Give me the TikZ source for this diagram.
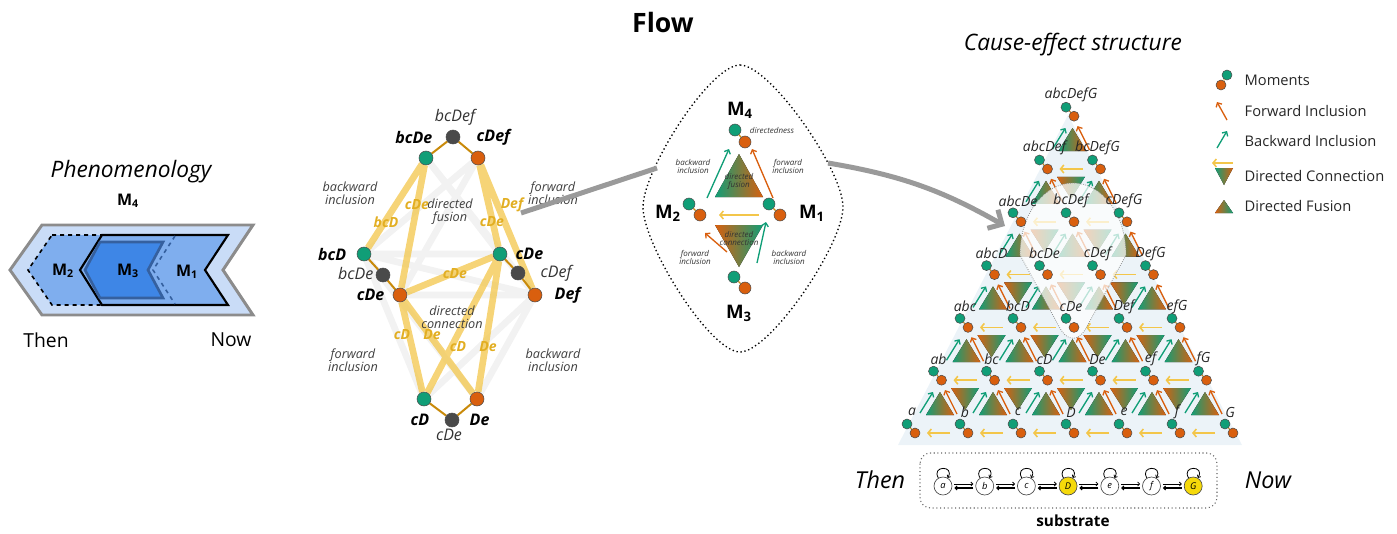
\documentclass[tikz,border=0pt]{standalone}
\usepackage{fontspec}
\setmainfont{Open Sans}
\usetikzlibrary{arrows.meta,calc}

\definecolor{mgreen}{HTML}{109E77}
\definecolor{morange}{HTML}{D95F0E}
\definecolor{mgold}{HTML}{F3C64A}
\definecolor{mlink}{HTML}{C98A0A}
\definecolor{mdark}{HTML}{4A4A4A}
\definecolor{chevA}{HTML}{C9DCF7}
\definecolor{chevB}{HTML}{7FAEEE}
\definecolor{chevC}{HTML}{3E86E6}
\definecolor{chevE}{HTML}{35609F}
\definecolor{flowgray}{HTML}{9A9A9A}
\definecolor{ceback}{HTML}{DCEAF3}
\definecolor{labgold}{HTML}{E2AE22}
\definecolor{sunyel}{HTML}{F5D90A}

\newcommand{\fsz}[1]{\fontsize{#1}{#1}\selectfont}

\pgfdeclarelayer{bgzero}
\pgfdeclarelayer{bgone}
\pgfdeclarelayer{bgtwo}
\pgfsetlayers{bgzero,bgone,bgtwo,main}

\tikzset{
  dot/.style={circle, draw=black!70, line width=0.4pt, inner sep=0pt, minimum size=7.5pt},
  gdot/.style={dot, fill=mgreen},
  odot/.style={dot, fill=morange},
  kdot/.style={dot, fill=mdark},
  big/.style={minimum size=10.5pt},
  mid/.style={minimum size=9pt},
  link/.style={mlink, line width=1pt},
  fwd/.style={morange, line width=1pt, -{Straight Barb[length=2.5pt,width=5pt]}},
  bwd/.style={mgreen, line width=1pt, -{Straight Barb[length=2.5pt,width=5pt]}},
  con/.style={mgold, line width=1.2pt, -{Straight Barb[length=2.5pt,width=6pt]}},
  fuse/.style={left color=mgreen, right color=morange},
  conn/.style={left color=morange, right color=mgreen},
  ybar/.style={mgold, line width=5pt, opacity=.75},
  gbar/.style={black!10, line width=5pt, opacity=.5},
  flow/.style={flowgray, line width=3.75pt},
  blab/.style={font=\bfseries\itshape\fsz{12}},
  rlab/.style={font=\itshape\fsz{12}, text=black!80},
  elab/.style={font=\bfseries\itshape\fsz{10.5}, text=labgold},
  glab/.style={font=\itshape\fsz{9.5}, text=black!75, align=center},
  ilab/.style={font=\itshape\fsz{6}, text=black!80, align=center},
  mname/.style={font=\bfseries\fsz{14}},
  tlab/.style={font=\itshape\fsz{10.5}, text=black!85},
  legt/.style={font=\fsz{11}, text=black!85, anchor=west},
  snode/.style={circle, draw=black!70, line width=0.5pt, inner sep=0pt, minimum size=13.5pt, font=\itshape\fsz{7}},
  sarr/.style={line width=0.6pt, shorten <=1.5pt, shorten >=1.5pt, -{Straight Barb[length=1.5pt,width=3pt]}},
  sloop/.style={line width=0.6pt, -{Straight Barb[length=1.5pt,width=3pt]}, loop above, min distance=3pt, in=60, out=120, looseness=4}
}

\begin{document}
\begin{tikzpicture}[x=0.75pt, y=-0.75pt]
\useasboundingbox (0,0) rectangle (1397,533);

\node[font=\bfseries\fsz{20}] (title) at (663,22) {Flow};

% phenomenology
\node[font=\itshape\fsz{17}] (phen) at (131,172) {Phenomenology};
\node[font=\bfseries\fsz{12}] (pm4) at (128,201) {M\textsubscript{4}};
\filldraw[fill=chevA, draw=black!45, line width=2.2pt] (42,225) -- (253,225) -- (223,270) -- (253,315) -- (42,315) -- (10,270) -- cycle;
\filldraw[fill=chevB, draw=black, dashed, line width=1.2pt] (52,235) -- (175,235) -- (153,270) -- (175,305) -- (52,305) -- (28,270) -- cycle;
\filldraw[fill=chevB, draw=black, line width=1.6pt] (102,235) -- (228,235) -- (205,270) -- (228,305) -- (102,305) -- (80,270) -- cycle;
\draw[dashed, line width=1.2pt, draw=chevE] (175,236) -- (153,270) -- (175,304);
\filldraw[fill=chevC, draw=chevE, line width=2pt] (100,242) -- (163,242) -- (148,270) -- (163,298) -- (100,298) -- (85,270) -- cycle;
\node[font=\bfseries\fsz{12}] (pm2) at (63,271) {M\textsubscript{2}};
\node[font=\bfseries\fsz{12}] (pm3) at (128,271) {M\textsubscript{3}};
\node[font=\bfseries\fsz{12}] (pm1) at (187,272) {M\textsubscript{1}};
\node[font=\fsz{14.5}] (pthen) at (46,340) {Then};
\node[font=\fsz{14.5}] (pnow) at (231,340) {Now};

% middle graph
\node[kdot, big] (tk) at (453,137) {};
\node[gdot, big] (tg) at (426,158) {};
\node[odot, big] (to) at (478,158) {};
\node[gdot, big] (lg) at (364,254) {};
\node[kdot, big] (lk) at (383,275) {};
\node[odot, big] (lo) at (400,295) {};
\node[gdot, big] (rg) at (500,254) {};
\node[kdot, big] (rk) at (518,273) {};
\node[odot, big] (ro) at (535,295) {};
\node[gdot, big] (bg) at (424,399) {};
\node[kdot, big] (bk) at (452,420) {};
\node[odot, big] (bo) at (477,399) {};

\begin{pgfonlayer}{bgone}
  \draw[gbar] (tg) -- (rg) (to) -- (lg) (lg) -- (rg) (lo) -- (ro) (lg) -- (ro)
    (bg) -- (lg) (bo) -- (ro) (bg) -- (ro) (bo) -- (lg) (tg) -- (ro) (to) -- (lo);
  \draw[ybar] (tg) -- (lg) (tg) -- (lo) (to) -- (rg) (to) -- (ro) (rg) -- (lo)
    (lo) -- (bg) (lo) -- (bo) (rg) -- (bg) (rg) -- (bo);
  \draw[link, line width=1.5pt] (tg) -- (tk) -- (to) (lg) -- (lk) -- (lo)
    (rg) -- (rk) -- (ro) (bg) -- (bk) -- (bo);
\end{pgfonlayer}

\node[rlab] at (455,117) {bcDef};
\node[blab, anchor=east] at (437,137) {bcDe};
\node[blab, anchor=west] at (472,137) {cDef};
\node[blab, anchor=east] at (351,254) {bcD};
\node[rlab, anchor=east] at (378,273) {bcDe};
\node[blab, anchor=east] at (389,295) {cDe};
\node[blab, anchor=west] at (511,254) {cDe};
\node[rlab, anchor=west] at (536,273) {cDef};
\node[blab, anchor=west] at (550,295) {Def};
\node[blab, anchor=east] at (434,420) {cD};
\node[blab, anchor=west] at (465,420) {De};
\node[rlab] at (449,435) {cDe};

\node[elab] at (386,222) {bcD};
\node[elab] at (417,205) {cDe};
\node[elab] at (492,222) {cDe};
\node[elab] at (512,205) {Def};
\node[elab] at (455,274) {cDe};
\node[elab] at (402,335) {cD};
\node[elab] at (432,335) {De};
\node[elab] at (458,347) {cD};
\node[elab] at (488,347) {De};

\node[glab] at (350,193) {backward\\inclusion};
\node[glab] at (450,212) {directed\\fusion};
\node[glab] at (553,193) {forward\\inclusion};
\node[glab] at (452,317) {directed\\connection};
\node[glab] at (353,360) {forward\\inclusion};
\node[glab] at (553,360) {backward\\inclusion};

% inset
\draw[dotted, line width=1pt] (740,65) .. controls (770,65) and (843,170) .. (843,207)
  .. controls (843,245) and (770,352) .. (740,352) .. controls (710,352) and (643,245) .. (643,207)
  .. controls (643,170) and (710,65) .. (740,65);
\coordinate (fa) at (521,213);
\coordinate (fb) at (657,168);
\coordinate (fc) at (828,163);
\coordinate (fd) at (1005,226);
\draw[flow] (fa) -- (fb);
\draw[flow, -{Straight Barb[length=8pt,width=16pt]}] (fc) to[bend left=10] (fd);

\node[mname] (im4) at (740,110) {M\textsubscript{4}};
\node[mname] (im2) at (668,213) {M\textsubscript{2}};
\node[mname] (im1) at (812,213) {M\textsubscript{1}};
\node[mname] (im3) at (739,313) {M\textsubscript{3}};
\node[gdot, mid] (ig4) at (735,130) {};
\node[odot, mid] (io4) at (745,142) {};
\node[gdot, mid] (ig2) at (689,204) {};
\node[odot, mid] (io2) at (700,215) {};
\node[gdot, mid] (ig1) at (769,204) {};
\node[odot, mid] (io1) at (780,215) {};
\node[gdot, mid] (ig3) at (734,277) {};
\node[odot, mid] (io3) at (745,288) {};
\begin{pgfonlayer}{bgone}
  \draw[link] (ig4) -- (io4) (ig2) -- (io2) (ig1) -- (io1) (ig3) -- (io3);
  \fill[fuse] (715,197) -- (763,197) -- (739,154) -- cycle;
  \fill[conn] (715,225) -- (763,225) -- (739,267) -- cycle;
\end{pgfonlayer}
\draw[bwd] ([shift={(7,-17)}]io2.center) -- ([shift={(-6,19)}]ig4.center);
\draw[fwd] ([shift={(-7,-17)}]io1.center) -- ([shift={(7,7)}]io4.center);
\draw[con, shorten <=15.75pt, shorten >=14.25pt] (io1.center) -- (io2.center);
\draw[fwd] ([shift={(-7,-25)}]ig3.center) -- ([shift={(5,18)}]io2.center);
\draw[bwd] ([shift={(23,-14)}]ig3.center) -- ([shift={(-3,18)}]ig1.center);
\node[ilab] at (772,130) {directedness};
\node[ilab] at (693,166) {backward\\inclusion};
\node[ilab] at (788,166) {forward\\inclusion};
\node[ilab] at (739,181) {directed\\fusion};
\node[ilab] at (739,238) {directed\\connection};
\node[ilab] at (695,257) {forward\\inclusion};
\node[ilab] at (789,257) {backward\\inclusion};

% cause-effect structure
\node[font=\itshape\fsz{17}] (ces) at (1073,45) {Cause-effect structure};
\begin{pgfonlayer}{bgzero}
  \fill[ceback, opacity=.55] (1068,115) -- (1242,445) -- (898,445) -- cycle;
\end{pgfonlayer}
\foreach \r/\names in {0/{a,b,c,D,e,f,G},1/{ab,bc,cD,De,ef,fG},2/{abc,bcD,cDe,Def,efG},
    3/{abcD,bcDe,cDef,DefG},4/{abcDe,bcDef,cDefG},5/{abcDef,bcDefG},6/{abcDefG}}{
  \foreach \n [count=\i from 0] in \names {
    \node[gdot] (g-\r-\i) at ({907+53*\i+26.5*\r},{424-52.8*\r}) {};
    \node[odot] (o-\r-\i) at ([shift={(8,9)}]g-\r-\i.center) {};
    \begin{pgfonlayer}{bgone}
      \draw[link, line width=0.8pt] (g-\r-\i) -- (o-\r-\i);
    \end{pgfonlayer}
    \node[tlab] at ([shift={(5,-12)}]g-\r-\i.center) {\n};
  }
}
\begin{pgfonlayer}{bgone}
\foreach \r in {0,...,5}{
  \pgfmathtruncatemacro\nn{5-\r}
  \foreach \i in {0,...,\nn}{
    \pgfmathtruncatemacro\j{\i+1}
    \fill[fuse] ([shift={(19,-9)}]g-\r-\i.center) -- ([shift={(47,-9)}]g-\r-\i.center)
      -- ([shift={(33,-32)}]g-\r-\i.center) -- cycle;
    \draw[bwd] ([shift={(13,-11)}]g-\r-\i.center) -- ([shift={(26,-32)}]g-\r-\i.center);
    \draw[fwd] ([shift={(50,-10)}]g-\r-\i.center) -- ([shift={(38,-34)}]g-\r-\i.center);
    \draw[con, shorten <=13.5pt, shorten >=9pt] (o-\r-\j.center) -- (o-\r-\i.center);
  }
}
\foreach \r in {0,...,4}{
  \pgfmathtruncatemacro\nn{4-\r}
  \foreach \i in {0,...,\nn}{
    \fill[conn] ([shift={(44,-36)}]g-\r-\i.center) -- ([shift={(72,-36)}]g-\r-\i.center)
      -- ([shift={(58,-14)}]g-\r-\i.center) -- cycle;
  }
}
\end{pgfonlayer}
\begin{pgfonlayer}{bgtwo}
  \filldraw[fill=white, fill opacity=.72, draw=black!45, densely dotted, line width=0.6pt]
    (1020,255) .. controls (1020,213) and (1045,183) .. (1073,183)
    .. controls (1101,183) and (1126,213) .. (1126,255) -- (1085,330)
    .. controls (1078,341) and (1068,341) .. (1061,330) -- cycle;
\end{pgfonlayer}

% legend
\node[odot] (lego) at (1221,85) {};
\node[gdot] (legg) at (1227,75) {};
\draw[link, line width=0.8pt] (legg) -- (lego);
\node[legt] at (1240,80) {Moments};
\draw[fwd] (1227,120) -- (1217,102);
\node[legt] at (1240,111) {Forward Inclusion};
\draw[bwd] (1217,148) -- (1227,131);
\node[legt] at (1240,141) {Backward Inclusion};
\draw[con] (1233,163) -- (1212,163);
\fill[left color=mgreen, right color=morange] (1215,168) -- (1233,168) -- (1224,185) -- cycle;
\node[legt] at (1240,176) {Directed Connection};
\fill[left color=morange, right color=mgreen] (1215,213) -- (1233,213) -- (1224,200) -- cycle;
\node[legt] at (1240,206) {Directed Fusion};

% substrate
\draw[dotted, rounded corners=8pt, draw=black!60, line width=0.8pt] (920,453) rectangle (1217,508);
\node[font=\itshape\fsz{17.5}] (sthen) at (880,480) {Then};
\node[font=\itshape\fsz{17.5}] (snow) at (1268,480) {Now};
\node[font=\bfseries\fsz{11.5}] (ssub) at (1073,521) {substrate};
\foreach \n/\c [count=\i from 0] in {a/white,b/white,c/white,D/sunyel,e/white,f/white,G/sunyel}
  \node[snode, fill=\c] (s\i) at ({943+41.7*\i},486) {\n};
\foreach \i in {0,...,6}
  \path[draw] (s\i) edge[sloop] (s\i);
\foreach \i [count=\j from 1] in {0,...,5}{
  \draw[sarr] ([yshift=1.5pt]s\i.east) -- ([yshift=1.5pt]s\j.west);
  \draw[sarr, line width=0.8pt] ([yshift=-1.5pt]s\j.west) -- ([yshift=-1.5pt]s\i.east);
}
\end{tikzpicture}
\end{document}
